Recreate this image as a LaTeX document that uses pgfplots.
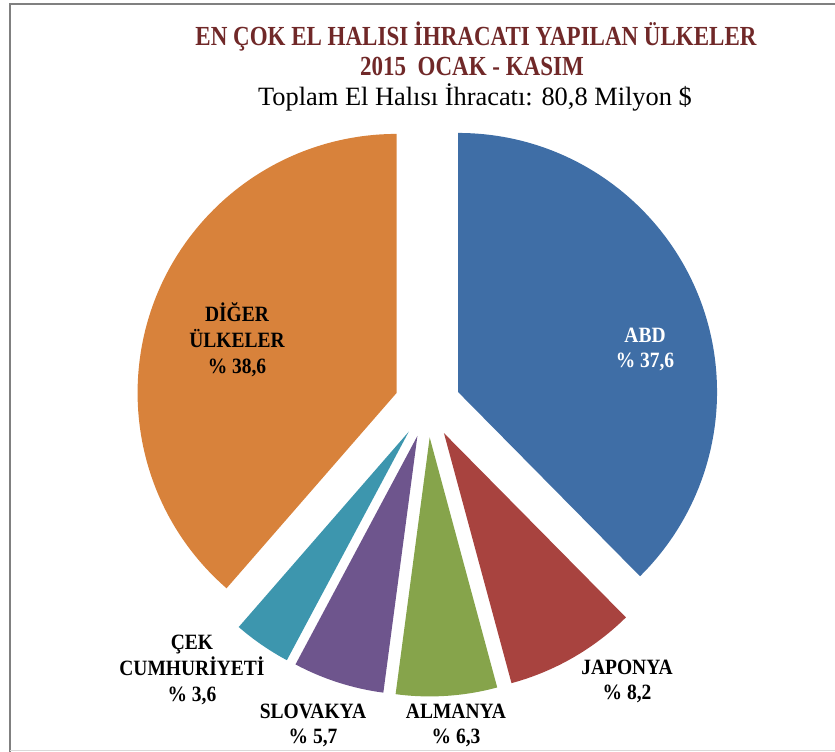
\documentclass[border=0pt]{standalone}
\usepackage{pgfplots}
\usepackage{pgfplotstable}
\pgfplotsset{compat=1.18}
\usepackage{fontspec}
\setmainfont{Liberation Serif}
\definecolor{cABD}{RGB}{63,110,166}
\definecolor{cJAP}{RGB}{168,67,63}
\definecolor{cALM}{RGB}{134,164,75}
\definecolor{cSLO}{RGB}{110,85,141}
\definecolor{cCEK}{RGB}{61,150,174}
\definecolor{cDIG}{RGB}{216,130,59}
\definecolor{ctitle}{RGB}{112,40,40}

\pgfplotstableread[col sep=comma]{
name,value,color
ABD,37.6,cABD
JAPONYA,8.2,cJAP
ALMANYA,6.3,cALM
SLOVAKYA,5.7,cSLO
CEK,3.6,cCEK
DIGER,38.6,cDIG
}\piedata

\newcommand{\lbltext}[1]{\scalebox{1}[1.12]{\fontsize{19.5}{22.8}\selectfont\bfseries\begin{tabular}{@{}c@{}}#1\end{tabular}}}

\begin{document}
\begin{tikzpicture}
\begin{axis}[
  hide axis, scale only axis,
  width=835pt, height=752pt,
  xmin=0, xmax=835, ymin=0, ymax=752,
  clip=false,
  anchor=south west, at={(0,0)},
]
% frame
\draw[black!50, line width=2pt] (axis cs:10,0) -- (axis cs:10,748) -- (axis cs:835,748);
\draw[black!15, line width=1pt] (axis cs:10,1) -- (axis cs:835,1);
% pie slices
\xdef\startangle{90}
\pgfplotsforeachungrouped \i in {0,...,5}{%
  \pgfplotstablegetelem{\i}{value}\of\piedata \let\v\pgfplotsretval
  \pgfplotstablegetelem{\i}{color}\of\piedata \let\c\pgfplotsretval
  \pgfmathsetmacro{\endangle}{\startangle-3.6*\v}%
  \pgfmathsetmacro{\midangle}{(\startangle+\endangle)/2}%
  \pgfmathsetmacro{\ax}{427.5+33*cos(\midangle)}%
  \pgfmathsetmacro{\ay}{347.5+33*sin(\midangle)}%
  \edef\temp{\noexpand\fill[\c] (axis cs:\ax,\ay) -- ++(\startangle:259pt) arc[start angle=\startangle, end angle=\endangle, radius=259pt] -- cycle;}%
  \temp
  \xdef\startangle{\endangle}%
}
% titles
\node[font=\fontsize{23}{26}\selectfont\bfseries, text=ctitle] at (axis cs:476,715) {\scalebox{1}[1.2]{EN ÇOK EL HALISI İHRACATI YAPILAN ÜLKELER}};
\node[font=\fontsize{23}{26}\selectfont\bfseries, text=ctitle] at (axis cs:472,686) {\scalebox{1}[1.2]{2015\ \ OCAK - KASIM}};
\node[font=\fontsize{26.4}{30}\selectfont] at (axis cs:475,655) {Toplam El Halısı İhracatı: 80,8 Milyon \$};
% labels
\node[text=white] at (axis cs:645,402) {\lbltext{ABD\\\% 37,6}};
\node at (axis cs:237,410) {\lbltext{DİĞER\\ÜLKELER\\\% 38,6}};
\node at (axis cs:627,70) {\lbltext{JAPONYA\\\% 8,2}};
\node at (axis cs:456,26) {\lbltext{ALMANYA\\\% 6,3}};
\node at (axis cs:313,26) {\lbltext{SLOVAKYA\\\% 5,7}};
\node at (axis cs:192,82) {\lbltext{ÇEK\\CUMHURİYETİ\\\% 3,6}};
\end{axis}
\pgfresetboundingbox
\path (0,0) rectangle (835pt,752pt);
\end{tikzpicture}
\end{document}
